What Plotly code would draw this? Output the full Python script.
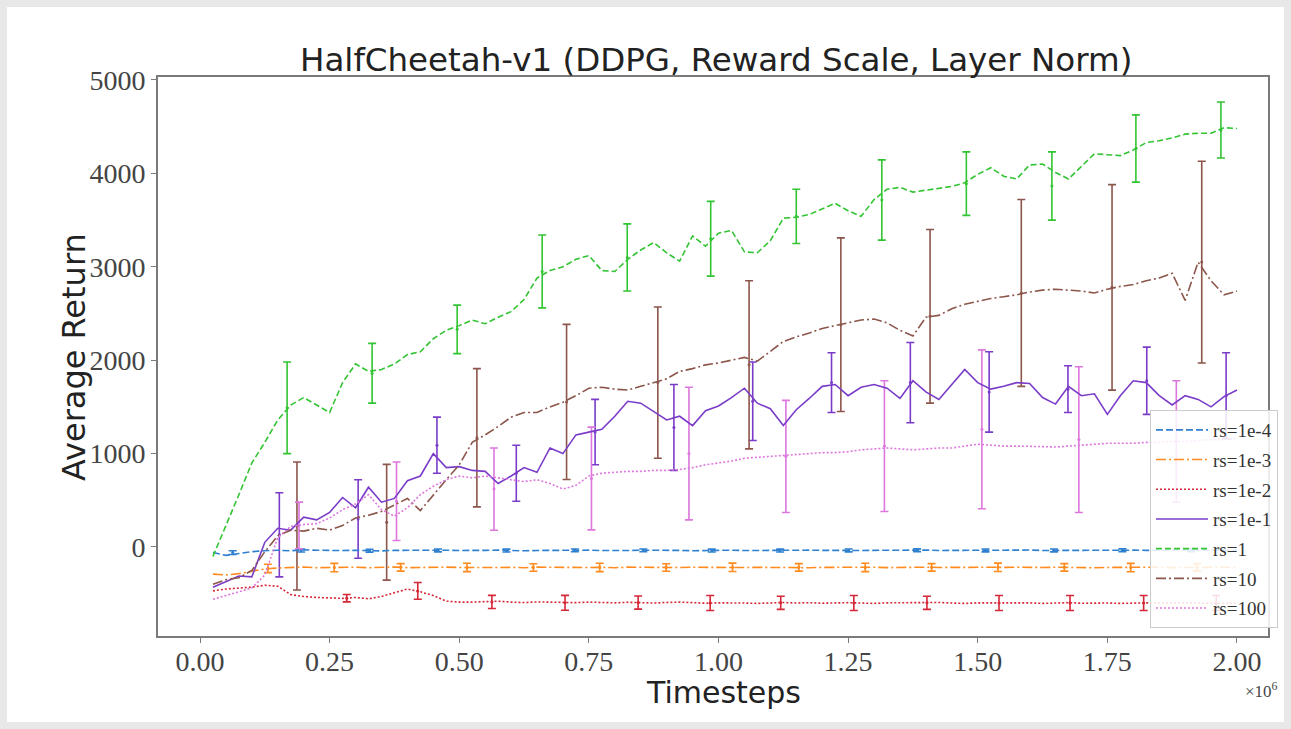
import plotly.graph_objects as go

# Timesteps (x 1e6)
timesteps = [
    0.025, 0.05, 0.075, 0.1, 0.125, 0.15, 0.175, 0.2, 0.225, 0.25,
    0.275, 0.3, 0.325, 0.35, 0.375, 0.4, 0.425, 0.45, 0.475, 0.5,
    0.525, 0.55, 0.575, 0.6, 0.625, 0.65, 0.675, 0.7, 0.725, 0.75,
    0.775, 0.8, 0.825, 0.85, 0.875, 0.9, 0.925, 0.95, 0.975, 1.0,
    1.025, 1.05, 1.075, 1.1, 1.125, 1.15, 1.175, 1.2, 1.225, 1.25,
    1.275, 1.3, 1.325, 1.35, 1.375, 1.4, 1.425, 1.45, 1.475, 1.5,
    1.525, 1.55, 1.575, 1.6, 1.625, 1.65, 1.675, 1.7, 1.725, 1.75,
    1.775, 1.8, 1.825, 1.85, 1.875, 1.9, 1.925, 1.95, 1.975, 2.0,
]

rs_1e4 = [
    -60, -90, -70, -50, -40, -35, -40, -30, -35, -40,
    -38, -35, -40, -42, -36, -34, -40, -38, -35, -37,
    -40, -36, -33, -38, -41, -37, -35, -39, -36, -34,
    -38, -40, -37, -35, -33, -38, -36, -40, -37, -35,
    -34, -38, -36, -35, -39, -37, -34, -36, -38, -35,
    -37, -36, -34, -38, -35, -33, -37, -36, -34, -35,
    -36, -38, -35, -33, -37, -36, -34, -35, -37, -36,
    -35, -34, -36, -38, -35, -33, -36, -35, -34, -36,
]
rs_1e3 = [
    -290, -300, -285, -260, -235, -225, -220, -215, -222, -218,
    -220, -216, -222, -219, -215, -221, -218, -220, -216, -219,
    -221, -217, -220, -218, -222, -216, -219, -221, -217, -220,
    -218, -222, -216, -219, -221, -218, -220, -217, -219, -222,
    -216, -220, -218, -221, -217, -219, -222, -218, -216, -220,
    -219, -217, -221, -218, -220, -216, -219, -222, -218, -217,
    -220, -218, -216, -221, -219, -217, -220, -218, -222, -219,
    -217, -220, -218, -216, -221, -219, -218, -220, -217, -219,
]
rs_1e2 = [
    -470, -450, -440, -430, -410, -420, -510, -530, -540, -545,
    -550, -540, -555, -530, -490, -450, -480, -520, -580, -590,
    -590, -585, -580, -590, -595, -588, -592, -600, -596, -590,
    -594, -598, -592, -596, -600, -594, -590, -596, -602, -598,
    -596, -600, -604, -598, -594, -600, -596, -602, -598, -596,
    -600, -604, -598, -596, -602, -598, -594, -600, -604, -598,
    -596, -602, -600, -598, -604, -600, -596, -602, -598, -600,
    -604, -600, -598, -602, -600, -596, -602, -600, -598, -602,
]
rs_1e1 = [
    -430, -370, -310, -320, 50, 200, 180, 320, 290, 370,
    530, 420, 640, 480, 520, 710, 760, 1000, 850, 860,
    820, 810, 680, 760, 850, 800, 1060, 1000, 1200, 1230,
    1260, 1400, 1560, 1540, 1450, 1360, 1400, 1300, 1460, 1510,
    1600, 1700, 1540, 1480, 1300, 1470, 1590, 1720, 1740, 1620,
    1710, 1740, 1700, 1590, 1780, 1660, 1580, 1740, 1900, 1760,
    1690, 1720, 1760, 1750, 1600, 1530, 1720, 1620, 1640, 1420,
    1620, 1780, 1760, 1620, 1520, 1620, 1580, 1500, 1610, 1680,
]
rs_1 = [
    -100, 220, 560, 900, 1120, 1360, 1520, 1600, 1520, 1440,
    1760, 1960, 1880, 1900, 1960, 2060, 2090, 2230, 2320, 2370,
    2430, 2390, 2460, 2520, 2650, 2880, 2960, 3000, 3080, 3120,
    2960, 2950, 3080, 3180, 3260, 3150, 3060, 3330, 3220, 3360,
    3390, 3160, 3150, 3280, 3520, 3530, 3560, 3620, 3680, 3600,
    3540, 3720, 3830, 3850, 3800, 3820, 3840, 3860, 3900, 3990,
    4060, 3970, 3940, 4090, 4100, 4010, 3940, 4080, 4210, 4200,
    4190, 4250, 4330, 4350, 4380, 4420, 4430, 4430, 4490, 4480,
]
rs_10 = [
    -400, -350, -330, -250, -50, 120, 180, 170, 200, 180,
    230, 310, 340, 380, 450, 520, 390, 560, 720, 880,
    1120, 1200, 1290, 1390, 1440, 1440, 1500, 1550, 1620, 1700,
    1710, 1690, 1680, 1720, 1760, 1800, 1880, 1910, 1950, 1970,
    2000, 2030, 1990, 2100, 2200, 2250, 2290, 2340, 2370, 2400,
    2430, 2440, 2400, 2320, 2260, 2460, 2480, 2550, 2600, 2630,
    2660, 2680, 2700, 2730, 2750, 2760, 2750, 2740, 2720, 2760,
    2790, 2810, 2850, 2880, 2930, 2640, 3050, 2850, 2700, 2740,
]
rs_100 = [
    -560, -520, -480, -440, -300, 100, 220, 240, 250, 310,
    400, 460, 560, 400, 330, 420, 560, 650, 720, 760,
    740, 760, 740, 720, 700, 720, 680, 620, 660, 760,
    790, 800, 810, 810, 820, 820, 830, 850, 880, 900,
    920, 950, 960, 970, 980, 990, 1000, 1010, 1010, 1020,
    1040, 1050, 1060, 1050, 1040, 1050, 1060, 1060, 1080, 1100,
    1090, 1080, 1080, 1080, 1075, 1070, 1080, 1090, 1100, 1110,
    1110, 1110, 1120, 1120, 1130, 1130, 1140, 1150, 1150, 1160,
]

# Error bars (x, centre, half-width) per series
err_1e4_x = [0.063, 0.195, 0.327, 0.459, 0.591, 0.723, 0.855, 0.987, 1.119, 1.251, 1.383, 1.515, 1.647, 1.779, 1.911]
err_1e4_y = [-60, -38, -40, -37, -38, -36, -36, -38, -38, -37, -35, -37, -37, -35, -35]
err_1e4_e = [20, 15, 15, 15, 15, 15, 15, 15, 15, 15, 15, 15, 15, 15, 15]

err_1e3_x = [0.131, 0.259, 0.387, 0.515, 0.643, 0.771, 0.899, 1.027, 1.155, 1.283, 1.411, 1.539, 1.667, 1.795, 1.923]
err_1e3_y = [-230, -220, -218, -219, -220, -219, -219, -218, -218, -219, -218, -218, -218, -220, -218]
err_1e3_e = [45, 45, 40, 45, 40, 45, 40, 45, 40, 45, 40, 45, 40, 45, 40]

err_1e2_x = [0.283, 0.42, 0.563, 0.704, 0.845, 0.984, 1.12, 1.261, 1.402, 1.541, 1.678, 1.82, 1.96]
err_1e2_y = [-548, -470, -588, -598, -595, -600, -598, -600, -598, -600, -600, -600, -600]
err_1e2_e = [40, 90, 70, 80, 70, 80, 70, 80, 70, 80, 80, 80, 80]

err_1e1_x = [0.153, 0.305, 0.457, 0.61, 0.762, 0.914, 1.066, 1.218, 1.37, 1.522, 1.674, 1.826, 1.979]
err_1e1_y = [130, 300, 1090, 790, 1230, 1280, 1560, 1760, 1760, 1660, 1690, 1780, 1620]
err_1e1_e = [450, 420, 300, 300, 350, 460, 420, 320, 430, 430, 250, 360, 460]

err_1_x = [0.168, 0.332, 0.496, 0.66, 0.824, 0.985, 1.15, 1.315, 1.478, 1.643, 1.805, 1.969]
err_1_y = [1490, 1860, 2330, 2950, 3100, 3300, 3540, 3715, 3890, 3865, 4266, 4465]
err_1_e = [490, 320, 260, 390, 360, 400, 290, 430, 340, 365, 360, 300]

err_10_x = [0.187, 0.36, 0.534, 0.707, 0.883, 1.059, 1.236, 1.408, 1.584, 1.759, 1.932]
err_10_y = [225, 265, 1170, 1553, 1760, 1950, 2380, 2470, 2720, 2780, 3050]
err_10_e = [685, 620, 740, 830, 810, 900, 930, 930, 1000, 1100, 1080]

err_100_x = [0.191, 0.379, 0.567, 0.755, 0.943, 1.13, 1.32, 1.508, 1.695, 1.883]
err_100_y = [230, 490, 620, 733, 1000, 970, 1080, 1260, 1150, 1130]
err_100_e = [250, 420, 440, 550, 710, 600, 700, 850, 780, 650]

x_tick_vals = [0.0, 0.25, 0.5, 0.75, 1.0, 1.25, 1.5, 1.75, 2.0]
x_tick_text = ["0.00", "0.25", "0.50", "0.75", "1.00", "1.25", "1.50", "1.75", "2.00"]
y_tick_vals = [0, 1000, 2000, 3000, 4000, 5000]
y_tick_text = ["0", "1000", "2000", "3000", "4000", "5000"]

series = [
    ("rs=1e-4", rs_1e4, err_1e4_x, err_1e4_y, err_1e4_e, "#2f80d0", "7px,3px"),
    ("rs=1e-3", rs_1e3, err_1e3_x, err_1e3_y, err_1e3_e, "#ff8a1e", "10px,3px,2px,3px"),
    ("rs=1e-2", rs_1e2, err_1e2_x, err_1e2_y, err_1e2_e, "#d62738", "2px,2px"),
    ("rs=1e-1", rs_1e1, err_1e1_x, err_1e1_y, err_1e1_e, "#7a3cc8", "solid"),
    ("rs=1", rs_1, err_1_x, err_1_y, err_1_e, "#33c433", "6px,3px"),
    ("rs=10", rs_10, err_10_x, err_10_y, err_10_e, "#8c564b", "10px,3px,2px,3px"),
    ("rs=100", rs_100, err_100_x, err_100_y, err_100_e, "#dd77dd", "2px,2px"),
]

fig = go.Figure()
for name, vals, ex, ey, ee, color, dash in series:
    fig.add_trace(go.Scatter(
        x=ex, y=ey, mode="markers",
        marker=dict(size=3, color=color),
        error_y=dict(type="data", array=ee, color=color, thickness=1.6, width=4),
        showlegend=False, hoverinfo="skip",
    ))
for name, vals, ex, ey, ee, color, dash in series:
    fig.add_trace(go.Scatter(
        x=timesteps, y=vals, mode="lines", name=name, legendgroup=name,
        line=dict(color=color, width=1.6, dash=dash),
    ))

W, H = 1291, 729
L, R, T, B = 158, 23, 77, 93
PW, PH = W - L - R, H - T - B


def px_x(p):
    return (p - L) / PW


def px_y(p):
    return (H - B - p) / PH


fig.update_layout(
    width=W, height=H,
    margin=dict(l=L, r=R, t=T, b=B),
    paper_bgcolor="#ffffff",
    plot_bgcolor="#ffffff",
    showlegend=True,
    legend=dict(
        x=px_x(1278), y=px_y(628), xanchor="right", yanchor="bottom",
        bgcolor="rgba(255,255,255,0.85)", bordercolor="#cccccc", borderwidth=1,
        font=dict(family="Liberation Serif", size=19, color="#333333"),
        tracegroupgap=2, itemwidth=52,
    ),
    font=dict(family="Liberation Serif", color="#333333"),
    shapes=[dict(
        type="rect", xref="paper", yref="paper",
        x0=px_x(0), x1=px_x(W), y0=px_y(H), y1=px_y(0),
        line=dict(color="#e8e8e8", width=14), layer="below",
    )],
)
fig.update_xaxes(
    range=[-0.081, 2.0598], tickvals=x_tick_vals, ticktext=x_tick_text,
    showgrid=False, zeroline=False,
    showline=True, linecolor="#7a7a7a", linewidth=2, mirror=True,
    ticks="outside", ticklen=5, tickcolor="#7a7a7a",
    tickfont=dict(family="Liberation Serif", size=28, color="#444444"),
    ticklabelstandoff=-6,
)
fig.update_yaxes(
    range=[-953, 5032], tickvals=y_tick_vals, ticktext=y_tick_text,
    showgrid=False, zeroline=False,
    showline=True, linecolor="#7a7a7a", linewidth=2, mirror=True,
    ticks="outside", ticklen=5, tickcolor="#7a7a7a",
    tickfont=dict(family="Liberation Serif", size=28, color="#444444"),
)

fig.add_annotation(
    text="HalfCheetah-v1 (DDPG, Reward Scale, Layer Norm)",
    xref="paper", yref="paper", x=px_x(716), y=px_y(60),
    showarrow=False, font=dict(family="DejaVu Sans", size=32.5, color="#222222"),
    xanchor="center", yanchor="middle",
)
fig.add_annotation(
    text="Average Return", textangle=-90,
    xref="paper", yref="paper", x=px_x(74), y=px_y(357),
    showarrow=False, font=dict(family="DejaVu Sans", size=32, color="#222222"),
    xanchor="center", yanchor="middle",
)
fig.add_annotation(
    text="Timesteps",
    xref="paper", yref="paper", x=px_x(723), y=px_y(692),
    showarrow=False, font=dict(family="DejaVu Sans", size=30, color="#222222"),
    xanchor="center", yanchor="middle",
)
fig.add_annotation(
    text="×10<sup>6</sup>",
    xref="paper", yref="paper", x=px_x(1261), y=px_y(690),
    showarrow=False, font=dict(family="Liberation Serif", size=17, color="#444444"),
    xanchor="center", yanchor="middle",
)

fig.write_html("out.html")
